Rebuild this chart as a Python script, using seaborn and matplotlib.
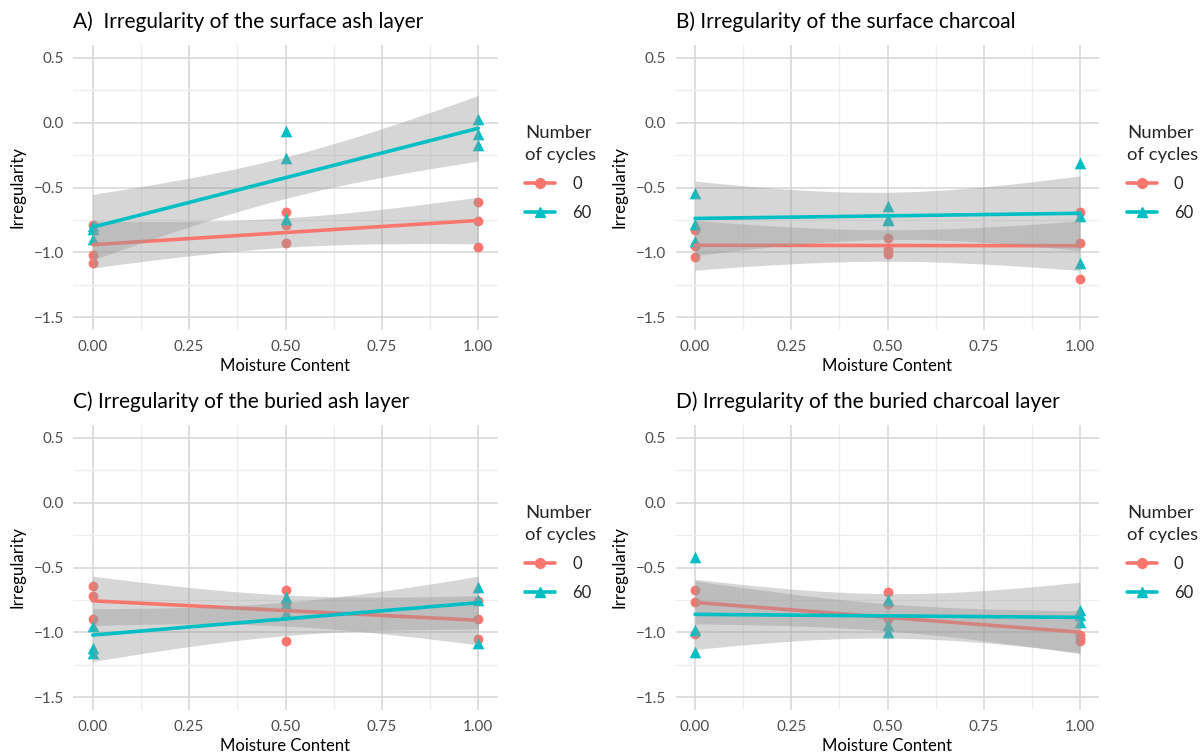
import numpy as np
import pandas as pd
import matplotlib
matplotlib.use("Agg")
import matplotlib.pyplot as plt
import seaborn as sns
from matplotlib.lines import Line2D
from matplotlib.ticker import MultipleLocator, FormatStrFormatter

# ---------------- data ----------------
moisture = [0.0, 0.5, 1.0]
cycles = ["0", "60"]
titles = ["A)  Irregularity of the surface ash layer",
          "B) Irregularity of the surface charcoal",
          "C) Irregularity of the buried ash layer",
          "D) Irregularity of the buried charcoal layer"]

# values per moisture level (3 replicates each)
A_c0 = [[-0.79, -1.02, -1.08], [-0.69, -0.79, -0.93], [-0.61, -0.76, -0.96]]
A_c60 = [[-0.80, -0.82, -0.90], [-0.06, -0.27, -0.74], [0.03, -0.09, -0.17]]
B_c0 = [[-0.83, -0.95, -1.04], [-0.89, -0.98, -1.01], [-0.69, -0.93, -1.21]]
B_c60 = [[-0.54, -0.78, -0.91], [-0.64, -0.74, -0.75], [-0.31, -0.72, -1.08]]
C_c0 = [[-0.64, -0.72, -0.90], [-0.67, -0.78, -1.07], [-0.76, -0.90, -1.05]]
C_c60 = [[-0.95, -1.12, -1.16], [-0.73, -0.78, -0.85], [-0.65, -0.75, -1.08]]
D_c0 = [[-0.67, -0.77, -1.01], [-0.69, -0.78, -0.90], [-1.02, -1.05, -1.07]]
D_c60 = [[-0.42, -0.98, -1.15], [-0.75, -0.94, -1.00], [-0.83, -0.87, -0.92]]

panels = [(A_c0, A_c60), (B_c0, B_c60), (C_c0, C_c60), (D_c0, D_c60)]

T975_DF7 = 2.3646  # t quantile for 95% CI with n-2 = 7 df

def make_df(c0, c60):
    rows = []
    for cyc, grp in zip(cycles, (c0, c60)):
        for m, vals in zip(moisture, grp):
            for v in vals:
                rows.append({"Moisture": m, "Irregularity": v, "Cycles": cyc})
    return pd.DataFrame(rows)

# ---------------- style ----------------
sns.set_theme(style="white")
plt.rcParams["font.family"] = ["Lato", "DejaVu Sans"]

palette = {"0": "#F8766D", "60": "#00BFC4"}
markers = {"0": "o", "60": "^"}

fig = plt.figure(figsize=(12.04, 7.56), dpi=100)
W, H = 1204, 756
# panel boxes in pixel coords: (left, top, right, bottom)
boxes = [(73.4, 45, 497.6, 330), (675.8, 45, 1099.2, 330),
         (73.4, 425, 497.6, 710), (675.8, 425, 1099.2, 710)]

for i, ((c0, c60), box) in enumerate(zip(panels, boxes)):
    l, t, r, b = box
    ax = fig.add_axes([l / W, 1 - b / H, (r - l) / W, (b - t) / H])
    df = make_df(c0, c60)

    # points first (ribbons drawn on top, like ggplot)
    for cyc in cycles:
        sub = df[df.Cycles == cyc]
        sns.scatterplot(data=sub, x="Moisture", y="Irregularity", ax=ax,
                        color=palette[cyc], marker=markers[cyc],
                        s=50 if cyc == "0" else 70, linewidth=0, zorder=2,
                        legend=False)

    z = 3
    for cyc in cycles:
        sub = df[df.Cycles == cyc]
        x = sub.Moisture.to_numpy()
        y = sub.Irregularity.to_numpy()
        n = len(x)
        slope, inter = np.polyfit(x, y, 1)
        xs = np.linspace(0, 1, 80)
        pred = inter + slope * xs
        resid = y - (inter + slope * x)
        s = np.sqrt(np.sum(resid ** 2) / (n - 2))
        sxx = np.sum((x - x.mean()) ** 2)
        se = s * np.sqrt(1 / n + (xs - x.mean()) ** 2 / sxx)
        ax.fill_between(xs, pred - T975_DF7 * se, pred + T975_DF7 * se,
                        color="#999999", alpha=0.4, linewidth=0, zorder=z)
        sns.regplot(data=sub, x="Moisture", y="Irregularity", ax=ax,
                    scatter=False, ci=None, truncate=True,
                    line_kws={"color": palette[cyc], "linewidth": 2.6,
                              "zorder": z + 1})
        z += 2

    ax.set_xlim(-0.05, 1.05)
    ax.set_ylim(-1.6, 0.6)
    ax.xaxis.set_major_locator(MultipleLocator(0.25))
    ax.xaxis.set_minor_locator(MultipleLocator(0.125))
    ax.yaxis.set_major_locator(MultipleLocator(0.5))
    ax.yaxis.set_minor_locator(MultipleLocator(0.25))
    ax.xaxis.set_major_formatter(FormatStrFormatter("%.2f"))
    ax.set_yticks([-1.5, -1.0, -0.5, 0.0, 0.5])
    ax.set_yticklabels(["\u22121.5", "\u22121.0", "\u22120.5", "0.0", "0.5"])
    ax.grid(True, which="major", color="#d4d4d4", linewidth=1.1, zorder=0)
    ax.grid(True, which="minor", color="#ededed", linewidth=0.9, zorder=0)
    ax.set_axisbelow(True)
    for sp in ax.spines.values():
        sp.set_visible(False)
    ax.tick_params(which="both", length=0, labelsize=11, colors="#4d4d4d",
                   pad=7)
    ax.set_xlabel("Moisture Content", fontsize=12, color="black", labelpad=3)
    ax.set_ylabel("Irregularity", fontsize=12.2, color="black", labelpad=6)
    ax.set_title(titles[i], fontsize=15, loc="left", x=-0.0, pad=12,
                 color="black")

    handles = [Line2D([0], [0], color=palette[c], marker=markers[c],
                      markersize=7, linewidth=2.6) for c in cycles]
    leg = ax.legend(handles, cycles, title="Number\nof cycles",
                    loc="center left", bbox_to_anchor=(1.05, 0.55),
                    frameon=False, fontsize=12, title_fontsize=13.3,
                    handlelength=1.8, labelspacing=0.8, handletextpad=1.0,
                    borderaxespad=0.0)
    leg.get_title().set_linespacing(1.45)
    leg._legend_box.align = "left"
    leg._legend_box.sep = 9

fig.savefig("out.png", dpi=100, facecolor="white")
